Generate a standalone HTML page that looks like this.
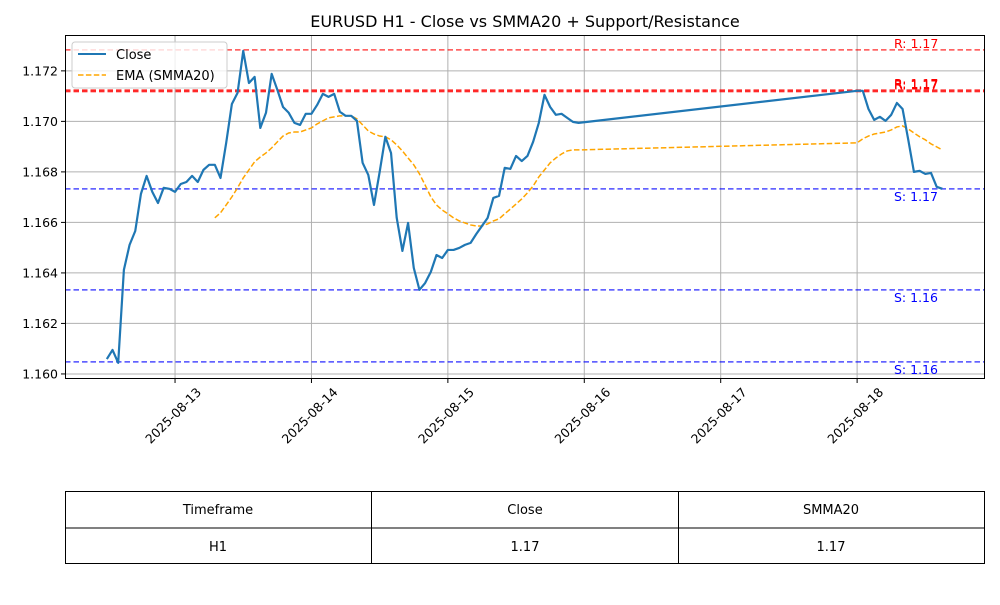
<!DOCTYPE html>
<html><head><meta charset="utf-8"><style>
body{margin:0;background:#fff;font-family:"Liberation Sans","DejaVu Sans",sans-serif}
svg text{font-family:"DejaVu Sans","Liberation Sans",sans-serif}
</style></head><body>
<svg id="chart" width="1000" height="600" xmlns="http://www.w3.org/2000/svg">
<rect width="1000" height="600" fill="#fff"/>
<text x="525" y="27" text-anchor="middle" font-size="16">EURUSD H1 - Close vs SMMA20 + Support/Resistance</text>
<g id="grid"></g><g id="levels"></g><g id="series"></g><g id="axes"></g>
<rect x="65.5" y="35.5" width="919" height="343" fill="none" stroke="#000" stroke-width="1"/>
<g>
<rect x="72" y="42" width="155" height="46" rx="3" fill="#fff" fill-opacity="0.8" stroke="#ccc"/>
<line x1="78" y1="54" x2="106" y2="54" stroke="#1f77b4" stroke-width="2"/>
<text x="116" y="59" font-size="13">Close</text>
<line x1="78" y1="75" x2="106" y2="75" stroke="orange" stroke-width="1.5" stroke-dasharray="5.5,2.4"/>
<text x="116" y="80" font-size="13">EMA (SMMA20)</text>
</g>
<g font-size="13">
<rect x="65.5" y="491.5" width="919" height="72" fill="none" stroke="#000"/>
<line x1="65" y1="528" x2="985" y2="528" stroke="#000"/>
<line x1="371.5" y1="491" x2="371.5" y2="564" stroke="#000"/>
<line x1="678.5" y1="491" x2="678.5" y2="564" stroke="#000"/>
<text x="218" y="514" text-anchor="middle">Timeframe</text>
<text x="525" y="514" text-anchor="middle">Close</text>
<text x="831" y="514" text-anchor="middle">SMMA20</text>
<text x="218" y="551" text-anchor="middle">H1</text>
<text x="525" y="551" text-anchor="middle">1.17</text>
<text x="831" y="551" text-anchor="middle">1.17</text>
</g>
</svg>
<script>
const weekHours0 = -12;
const mondayHours0 = 120;
const closeWeek = [1.16059,1.16095,1.16044,1.16412,1.16511,1.16566,1.16713,1.16784,1.16721,1.16677,1.16737,1.16733,1.16721,1.16752,1.16760,1.16784,1.16760,1.16808,1.16828,1.16828,1.16776,1.16915,1.17069,1.17113,1.17279,1.17152,1.17176,1.16974,1.17034,1.17188,1.17125,1.17057,1.17034,1.16994,1.16986,1.17030,1.17030,1.17065,1.17109,1.17097,1.17109,1.17038,1.17022,1.17022,1.17002,1.16836,1.16788,1.16669,1.16800,1.16939,1.16875,1.16618,1.16487,1.16598,1.16420,1.16333,1.16360,1.16404,1.16471,1.16459,1.16491,1.16491,1.16499,1.16511,1.16519,1.16554,1.16586,1.16618,1.16697,1.16705,1.16816,1.16812,1.16863,1.16843,1.16863,1.16919,1.16994,1.17105,1.17057,1.17026,1.17030,1.17014,1.16998,1.16994];
const closeMonday = [1.17121,1.17121,1.17049,1.17006,1.17018,1.17002,1.17026,1.17073,1.17049,1.16927,1.16800,1.16804,1.16792,1.16796,1.16741,1.16733];
const emaWeekStart = 19;
const emaWeek = [1.16618,1.16638,1.16669,1.16701,1.16737,1.16776,1.16808,1.16840,1.16859,1.16875,1.16895,1.16919,1.16942,1.16954,1.16958,1.16958,1.16966,1.16974,1.16990,1.17002,1.17014,1.17018,1.17022,1.17022,1.17022,1.17010,1.16986,1.16962,1.16950,1.16942,1.16939,1.16927,1.16907,1.16883,1.16855,1.16828,1.16792,1.16748,1.16701,1.16669,1.16649,1.16634,1.16618,1.16606,1.16598,1.16590,1.16586,1.16586,1.16594,1.16606,1.16614,1.16634,1.16653,1.16673,1.16693,1.16717,1.16744,1.16780,1.16808,1.16836,1.16855,1.16871,1.16883,1.16887,1.16887];
const emaMonday = [1.16915,1.16931,1.16942,1.16950,1.16954,1.16958,1.16966,1.16978,1.16982,1.16970,1.16954,1.16939,1.16927,1.16911,1.16899,1.16887];
const resistance = [1.17283,1.17121,1.17124,1.17118];
const support = [1.16733,1.16333,1.16048];
const yTicks = [1.160,1.162,1.164,1.166,1.168,1.170,1.172];
const xTickLabels = ["2025-08-13","2025-08-14","2025-08-15","2025-08-16","2025-08-17","2025-08-18"];
const xTickHours = [0,24,48,72,96,120];

const NS="http://www.w3.org/2000/svg";
const X0=65,X1=985,Y0=35,Y1=379;
const hMin=-19.36,hMax=142.5,vMin=1.15980,vMax=1.17342;
const sx=h=>X0+(h-hMin)/(hMax-hMin)*(X1-X0);
const sy=v=>Y1-(v-vMin)/(vMax-vMin)*(Y1-Y0);
function mk(tag,attrs,parent){const e=document.createElementNS(NS,tag);for(const k in attrs)e.setAttribute(k,attrs[k]);document.getElementById(parent).appendChild(e);return e;}
yTicks.forEach(v=>{const y=sy(v);
 const g=mk('line',{x1:X0,x2:X1,y1:y,y2:y,stroke:'#b0b0b0','stroke-width':1},'grid');
 
 
 mk('line',{x1:X0-4,x2:X0,y1:y,y2:y,stroke:'#000'},'axes');
 const t=mk('text',{x:X0-7,y:y+4.5,'text-anchor':'end','font-size':12.5},'axes');
 t.textContent=v.toFixed(3);
 
 
});
xTickHours.forEach((h,i)=>{const x=sx(h);
 const g=mk('line',{x1:x,x2:x,y1:Y0,y2:Y1,stroke:'#b0b0b0','stroke-width':1},'grid');
 
 
 mk('line',{x1:x,x2:x,y1:Y1,y2:Y1+4,stroke:'#000'},'axes');
 const ax=x+27, ay=Y1+14;
 const t=mk('text',{x:ax,y:ay,'text-anchor':'end','font-size':12.5,transform:`rotate(-45 ${ax} ${ay})`},'axes');
 t.textContent=xTickLabels[i];
 
 
});
resistance.forEach((v,i)=>{const y=sy(v);
 const l=mk('line',{x1:X0,x2:X1,y1:y,y2:y,stroke:'red','stroke-opacity':0.7,'stroke-width':1.5,'stroke-dasharray':'5.5,3'},'levels');
 
 
 const t=mk('text',{x:894,y:y-2,'font-size':12.5,fill:'red'},'levels');
 t.textContent='R: '+v.toFixed(2);
 
 
});
support.forEach(v=>{const y=sy(v);
 const l=mk('line',{x1:X0,x2:X1,y1:y,y2:y,stroke:'blue','stroke-opacity':0.7,'stroke-width':1.5,'stroke-dasharray':'5.5,3'},'levels');
 
 
 const t=mk('text',{x:894,y:y+12,'font-size':12.5,fill:'blue'},'levels');
 t.textContent='S: '+v.toFixed(2);
 
 
});
const closePts=[];closeWeek.forEach((v,i)=>closePts.push([sx(weekHours0+i),sy(v)]));
closeMonday.forEach((v,i)=>closePts.push([sx(mondayHours0+i),sy(v)]));
const emaPts=[];emaWeek.forEach((v,i)=>emaPts.push([sx(weekHours0+emaWeekStart+i),sy(v)]));
emaMonday.forEach((v,i)=>emaPts.push([sx(mondayHours0+i),sy(v)]));
const pe=mk('polyline',{points:emaPts.map(p=>p.join(',')).join(' '),fill:'none',stroke:'orange','stroke-width':1.5,'stroke-dasharray':'5.5,2.4'},'series');


const pc=mk('polyline',{points:closePts.map(p=>p.join(',')).join(' '),fill:'none',stroke:'#1f77b4','stroke-width':2.2,'stroke-linejoin':'round'},'series');


</script>
</body></html>
